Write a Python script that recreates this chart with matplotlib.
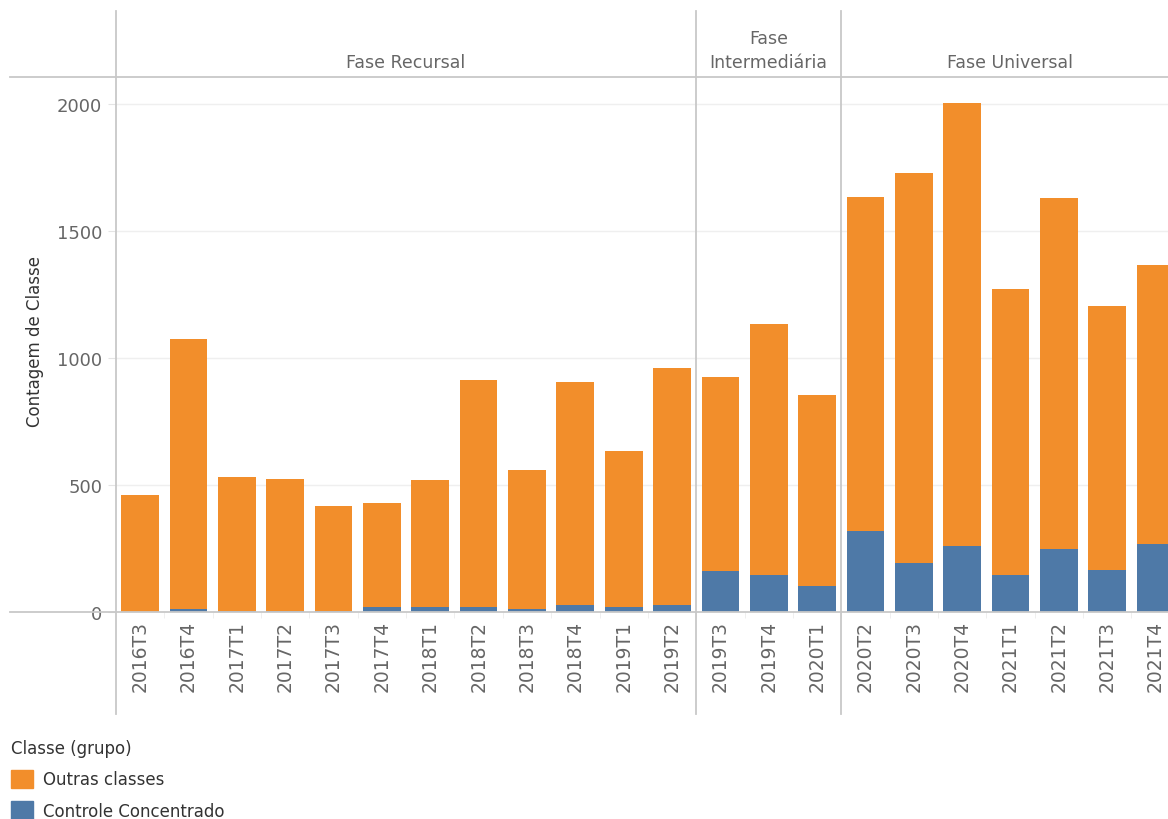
import matplotlib.pyplot as plt
from matplotlib.lines import Line2D
from matplotlib.patches import Patch

# dados (contagem por trimestre)
trimestres = ["2016T3", "2016T4", "2017T1", "2017T2", "2017T3", "2017T4",
              "2018T1", "2018T2", "2018T3", "2018T4", "2019T1", "2019T2",
              "2019T3", "2019T4", "2020T1",
              "2020T2", "2020T3", "2020T4", "2021T1", "2021T2", "2021T3", "2021T4"]
controle = [0, 12, 2, 5, 5, 20, 20, 20, 13, 26, 20, 26,
            160, 147, 102,
            319, 191, 261, 147, 248, 167, 268]
outras = [460, 1063, 529, 519, 412, 409, 500, 893, 546, 880, 614, 935,
          765, 987, 752,
          1315, 1537, 1743, 1125, 1382, 1038, 1098]
fases = ["Fase Recursal", "Fase\nIntermediária", "Fase Universal"]
fase_n = [12, 3, 7]

C_OUT = "#F28E2B"
C_CON = "#4E79A7"
GRID = "#c8c8c8"
TXT = "#666666"

W, H = 1168, 820
fig = plt.figure(figsize=(W / 100, H / 100), dpi=100)

def fx(x): return x / W
def fy(y): return 1 - y / H

slot = 48.35
x0, y_top, y_base = 116, 78, 613
ax = fig.add_axes([fx(x0), fy(y_base), len(trimestres) * slot / W, (y_base - y_top) / H])

xs = list(range(len(trimestres)))
ax.bar(xs, controle, width=0.78, color=C_CON, zorder=2)
ax.bar(xs, outras, bottom=controle, width=0.78, color=C_OUT, zorder=2)

ax.set_xlim(-0.5, len(trimestres) - 0.5)
ax.set_ylim(0, 2106)
for s in ax.spines.values():
    s.set_visible(False)
for v in [500, 1000, 1500, 2000]:
    ax.axhline(v, color="#efefef", lw=1, zorder=1)

ax.set_yticks([0, 500, 1000, 1500, 2000])
ax.set_yticklabels(["0", "500", "1000", "1500", "2000"])
ax.tick_params(axis="y", length=6, color="#e4e4e4", labelcolor=TXT, labelsize=13, pad=4)
ax.set_xticks(xs)
ax.set_xticklabels(trimestres, rotation=90, va="top")
ax.tick_params(axis="x", length=0, labelcolor=TXT, labelsize=13.5, pad=6)
ax.set_xticks([i + 0.5 for i in xs[:-1]], minor=True)
ax.tick_params(axis="x", which="minor", length=4, color="#ececec")

fig.text(fx(35), fy(342), "Contagem de Classe", rotation=90, ha="center", va="center",
         fontsize=12, color="#333333")

# cabeçalho das fases e divisórias
lines = [((10, W), (y_top, y_top)), ((10, W), (y_base, y_base))]
start = 0
for nome, n in zip(fases, fase_n):
    left = x0 + start * slot
    right = x0 + (start + n) * slot
    lines.append(((left, left), (12, 715)))
    fig.text(fx((left + right) / 2), fy(72), nome, ha="center", va="bottom",
             fontsize=12.5, color=TXT, linespacing=1.45)
    start += n
for (xa, xb), (ya, yb) in lines:
    fig.add_artist(Line2D([fx(xa), fx(xb)], [fy(ya), fy(yb)], color=GRID, lw=1.3,
                          transform=fig.transFigure))

handles = [Patch(color=C_OUT, label="Outras classes"),
           Patch(color=C_CON, label="Controle Concentrado")]
leg = fig.legend(handles=handles, title="Classe (grupo)", loc="upper left",
                 bbox_to_anchor=(fx(8), fy(737)), frameon=False, fontsize=12,
                 title_fontsize=12, handlelength=1.3, handleheight=1.3,
                 handletextpad=0.6, labelspacing=0.75, borderaxespad=0,
                 borderpad=0.2)
leg._legend_box.align = "left"
for t in leg.get_texts():
    t.set_color("#333333")
leg.get_title().set_color("#333333")

fig.savefig("out.png", dpi=100)
